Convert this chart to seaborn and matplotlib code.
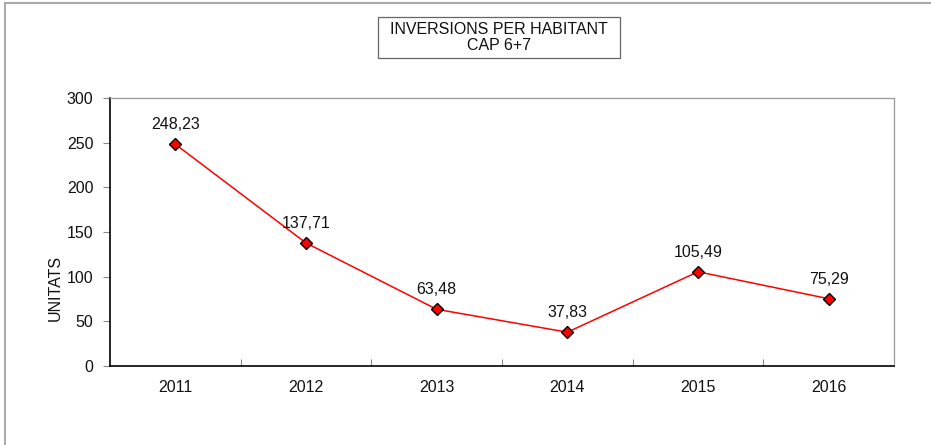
import matplotlib
matplotlib.use("Agg")
import matplotlib.pyplot as plt
import matplotlib.patches as patches
import seaborn as sns
import numpy as np

# Chart data
years = ["2011", "2012", "2013", "2014", "2015", "2016"]
values = [248.23, 137.71, 63.48, 37.83, 105.49, 75.29]
value_labels = ["248,23", "137,71", "63,48", "37,83", "105,49", "75,29"]

sns.set_theme(style="white")
plt.rcParams['font.family'] = ['Liberation Sans', 'DejaVu Sans']

fig = plt.figure(figsize=(9.31, 4.45), dpi=100)
ax = fig.add_axes([110 / 931, 79 / 445, 784 / 931, 268 / 445])

pos = np.arange(len(years))
sns.lineplot(x=pos, y=values, ax=ax, color="#ff0000", linewidth=1.1,
             marker="D", markersize=6.5, markerfacecolor="#ff0000",
             markeredgecolor="black", markeredgewidth=1.0)

for i, (v, lab) in enumerate(zip(values, value_labels)):
    ax.annotate(lab, (i, v), xytext=(0, 14), textcoords="offset points",
                ha="center", va="center", fontsize=11.5, color="#111111")

ax.set_xlim(-0.5, len(years) - 0.5)
ax.set_ylim(0, 300)
ax.set_yticks(range(0, 301, 50))
ax.set_xticks(pos)
ax.set_xticklabels(years)
ax.set_xticks(pos[:-1] + 0.5, minor=True)

ax.tick_params(axis="y", which="major", direction="out", length=5, width=0.8,
               color="#888888", pad=7, labelsize=11.5, labelcolor="#111111", left=True)
ax.tick_params(axis="x", which="major", length=0, pad=10, labelsize=11.5, labelcolor="#111111")
ax.tick_params(axis="x", which="minor", direction="in", length=5, width=0.8,
               color="#888888", bottom=True)

for side in ["left", "bottom"]:
    ax.spines[side].set_color("black")
    ax.spines[side].set_linewidth(1.2)
for side in ["top", "right"]:
    ax.spines[side].set_color("#999999")
    ax.spines[side].set_linewidth(0.9)

ax.set_xlabel("")
ax.set_ylabel("UNITATS", fontsize=11.5, color="#111111")
ax.yaxis.set_label_coords(-0.06, 0.29)

# title box
fig.patches.append(patches.Rectangle((378 / 931, 1 - 58 / 445), 242 / 931, 41 / 445,
                                     transform=fig.transFigure, fill=False,
                                     edgecolor="#666666", linewidth=0.9))
fig.text(499 / 931, 1 - 37.5 / 445, "INVERSIONS PER HABITANT\nCAP 6+7",
         ha="center", va="center", fontsize=11.5, color="#111111", linespacing=1.05)

# outer border (only left and top visible)
fig.patches.append(patches.Rectangle((5 / 931, -0.1), 1.2, 1.1 - 3 / 445,
                                     transform=fig.transFigure, fill=False,
                                     edgecolor="#aaaaaa", linewidth=1.5))

plt.savefig("out.png", dpi=100)
plt.close()
